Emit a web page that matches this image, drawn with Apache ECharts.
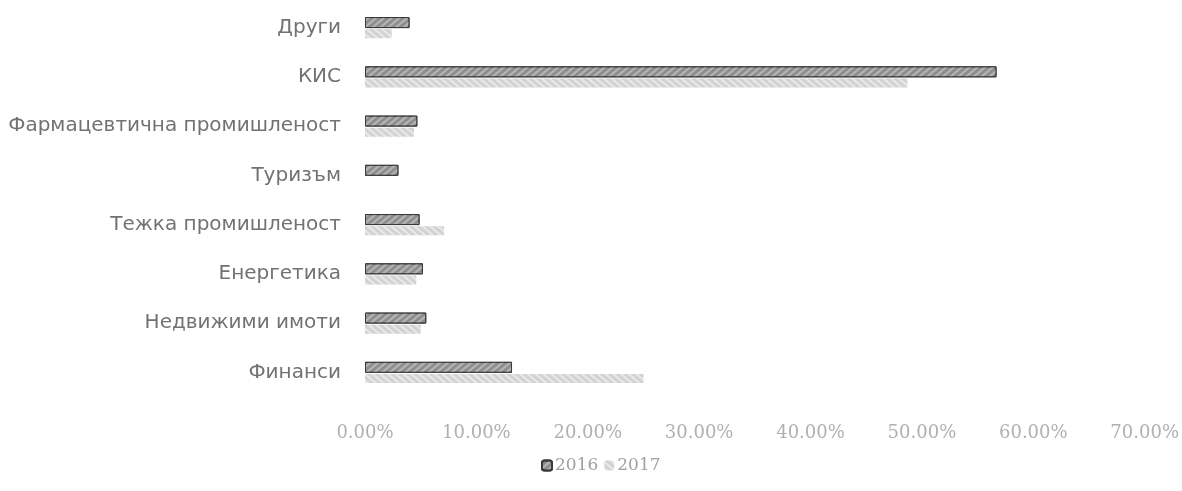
<!DOCTYPE html>
<html><head><meta charset="utf-8">
<script src="https://cdn.jsdelivr.net/npm/echarts@6/dist/echarts.min.js"></script>
<style>html,body{margin:0;padding:0;background:#fff}#c{width:1182px;height:491px}</style>
</head><body><div id="c"></div>
<script>
const categories = ['Финанси','Недвижими имоти','Енергетика','Тежка промишленост','Туризъм','Фармацевтична промишленост','КИС','Други'];
const series2016 = [13.2, 5.5, 5.2, 4.9, 3.0, 4.7, 56.7, 4.0];
const series2017 = [25.0, 5.0, 4.6, 7.1, 0, 4.4, 48.7, 2.4];
const xTicks = [0,10,20,30,40,50,60,70];

const chart = echarts.init(document.getElementById('c'));
chart.setOption({
  animation:false,
  grid:{left:365,right:28,top:3,bottom:94,containLabel:false},
  legend:{bottom:12,left:536,itemWidth:10,itemHeight:10,itemGap:6,
    textStyle:{fontFamily:'DejaVu Serif',fontSize:17,color:'#a0a0a0',padding:[0,0,0,-2]},
    data:['2016','2017']},
  xAxis:{type:'value',min:xTicks[0],max:xTicks[xTicks.length-1],interval:10,
    axisLine:{show:false},axisTick:{show:false},splitLine:{show:false},
    axisLabel:{margin:27,fontFamily:'DejaVu Serif',fontSize:18,color:'#b0b0b0',
      formatter:v=>v.toFixed(2)+'%'}},
  yAxis:{type:'category',data:categories,
    axisLine:{show:false},axisTick:{show:false},
    axisLabel:{margin:24,fontFamily:'DejaVu Sans',fontSize:20,color:'#727272'}},
  series:[
    {name:'2016',type:'bar',data:series2016,barWidth:11,barGap:'10%',
      itemStyle:{color:'#8e8e8e',borderColor:'#3a3a3a',borderWidth:1,
        decal:{symbol:'rect',color:'rgba(220,220,220,0.5)',dashArrayX:[1,0],dashArrayY:[2,3],rotation:-0.7}}},
    {name:'2017',type:'bar',data:series2017,barWidth:9,
      itemStyle:{color:'#d2d2d2',
        decal:{symbol:'rect',color:'rgba(255,255,255,0.5)',dashArrayX:[1,0],dashArrayY:[2,3],rotation:0.7}}}
  ]
});
</script></body></html>
